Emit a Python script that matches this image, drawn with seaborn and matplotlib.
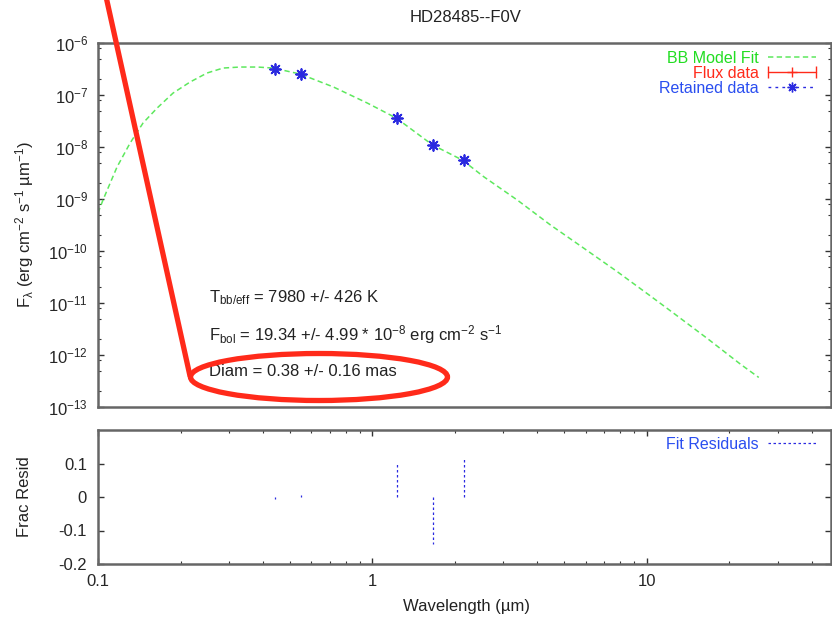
import matplotlib
matplotlib.use("Agg")
import matplotlib.pyplot as plt
import seaborn as sns
from matplotlib.lines import Line2D
from matplotlib.patches import Ellipse
from matplotlib.legend_handler import HandlerLine2D, HandlerTuple
from matplotlib.ticker import LogLocator, NullFormatter


STAR = "HD28485"
SPTYPE = "F0V"

# photometry, wavelength in microns, flux in erg/cm2/s/um
WAVE = [0.44, 0.55, 1.235, 1.662, 2.159]
FLUX = [3.1e-7, 2.5e-7, 3.65e-8, 1.1e-8, 5.6e-9]
FLUX_ERR = [6e-9, 5e-9, 7e-10, 2e-10, 1e-10]
RESID = [-0.005, 0.006, 0.10, -0.14, 0.12]

# blackbody fit
BB_WAVE = [0.1, 0.1043, 0.1173, 0.1309, 0.146, 0.1642, 0.1878, 0.2167,
           0.2499, 0.2859, 0.3298, 0.3805, 0.435, 0.546, 0.7207, 0.959,
           1.223, 1.656, 2.131, 2.548, 3.375, 4.463, 5.904, 7.816, 10.2,
           12.55, 16.7, 22.03, 25.63]
BB_FLUX = [5.4e-10, 9.6e-10, 4.12e-9, 1.19e-8, 2.9e-8, 5.6e-8, 1.09e-7,
           1.78e-7, 2.65e-7, 3.3e-7, 3.45e-7, 3.45e-7, 3.3e-7, 2.53e-7,
           1.43e-7, 7.0e-8, 3.6e-8, 1.1e-8, 5.6e-9, 2.68e-9, 9.57e-10,
           3.16e-10, 1.13e-10, 4.0e-11, 1.43e-11, 6.35e-12, 2.05e-12,
           6.6e-13, 3.7e-13]

YTICKS = [1e-13, 1e-12, 1e-11, 1e-10, 1e-9, 1e-8, 1e-7, 1e-6]

T_BB, T_BB_ERR = 7980, 426
FBOL, FBOL_ERR = 19.34, 4.99
DIAM, DIAM_ERR = 0.38, 0.16

GREEN = "#5ee85e"
GREEN_TXT = "#22dd22"
RED = "#ff2a1a"
BLUE = "#2a2ae0"
BLUE_TXT = "#2a4ef0"
FRAME = "#666666"
W, H = 832, 618
DASH = (0, (3.5, 2.2))


def fx(px):
    return px / W


def fy(py):
    return 1 - py / H


sns.set_theme(style="white")
plt.rcParams["font.family"] = ["Liberation Sans", "DejaVu Sans"]
plt.rcParams["mathtext.fontset"] = "custom"
plt.rcParams["mathtext.rm"] = "Liberation Sans"
plt.rcParams["mathtext.it"] = "Liberation Sans:italic"
plt.rcParams["font.size"] = 12
plt.rcParams["text.color"] = "#222222"

fig = plt.figure(figsize=(W / 100, H / 100), dpi=100)
ax = fig.add_axes([fx(98), fy(407), (831 - 98) / W, 364 / H])
axr = fig.add_axes([fx(98), fy(564), (831 - 98) / W, 134 / H])

# --- SED panel
sns.lineplot(x=BB_WAVE, y=BB_FLUX, ax=ax, color=GREEN, lw=1.1,
             linestyle=DASH, sort=False, estimator=None)
ax.errorbar(WAVE, FLUX, yerr=FLUX_ERR, fmt="+", color=RED, ms=6, lw=1)
sns.scatterplot(x=WAVE, y=FLUX, ax=ax, marker=(8, 2, 0), s=60,
                color=BLUE, edgecolor=BLUE, linewidth=1.3, zorder=5)

ax.set_xscale("log")
ax.set_yscale("log")
ax.set_xlim(0.1, 47)
ax.set_ylim(1e-13, 1e-6)
ax.set_yticks(YTICKS)
ax.yaxis.set_minor_locator(LogLocator(base=10, subs=(2, 5, 8), numticks=20))
ax.yaxis.set_minor_formatter(NullFormatter())
ax.tick_params(axis="x", which="both", length=0, labelbottom=False)
ax.tick_params(axis="y", which="both", direction="in", left=True, right=True,
               color="#333333", pad=7, labelsize=12)
ax.tick_params(axis="y", which="major", length=4.5, width=1)
ax.tick_params(axis="y", which="minor", length=2.5, width=0.8)

bb_h = Line2D([], [], color=GREEN, lw=1.1, linestyle=DASH)
fl_line = Line2D([], [], color=RED, lw=1, marker="+", ms=7)
fl_caps = Line2D([], [], color=RED, lw=0, marker="|", ms=8)
ret_h = Line2D([], [], color=BLUE, lw=1, linestyle=(0, (2, 3)),
               marker=(8, 2, 0), ms=7)
leg = ax.legend([bb_h, (fl_line, fl_caps), ret_h],
                ["BB Model Fit", "Flux data", "Retained data"],
                handler_map={tuple: HandlerTuple(ndivide=1),
                             fl_caps: HandlerLine2D(numpoints=2, marker_pad=0)},
                loc="upper right", bbox_to_anchor=(fx(816), fy(51)),
                bbox_transform=fig.transFigure, frameon=False, markerfirst=False,
                fontsize=11.5, labelspacing=0, handlelength=3.0,
                handletextpad=0.6, borderpad=0, borderaxespad=0)
for txt, c in zip(leg.get_texts(), [GREEN_TXT, RED, BLUE_TXT]):
    txt.set_color(c)

fig.text(fx(209), fy(302.5), r"T$_{\mathregular{bb/eff}}$ = %d +/- %d K" % (T_BB, T_BB_ERR),
         fontsize=12, va="baseline")
fig.text(fx(209), fy(340.5),
         r"F$_{\mathregular{bol}}$ = %.2f +/- %.2f * 10$^{\mathregular{-8}}$ erg cm$^{\mathregular{-2}}$ s$^{\mathregular{-1}}$"
         % (FBOL, FBOL_ERR), fontsize=12, va="baseline")
fig.text(fx(209), fy(376.5), "Diam = %.2f +/- %.2f mas" % (DIAM, DIAM_ERR),
         fontsize=12, va="baseline")

fig.text(fx(466), fy(18), "%s--%s" % (STAR, SPTYPE), ha="center", va="center", fontsize=12)
fig.text(fx(25), fy(225),
         r"F$_{\mathregular{λ}}$ (erg cm$^{\mathregular{-2}}$ s$^{\mathregular{-1}}$ µm$^{\mathregular{-1}}$)",
         rotation=90, ha="center", va="center", fontsize=12)

# --- residual panel
axr.vlines(WAVE, 0, RESID, colors=BLUE, linestyles=(0, (2, 2)), lw=0.9)
axr.set_xscale("log")
axr.set_xlim(0.1, 47)
axr.set_ylim(-0.2, 0.2)
axr.set_yticks([-0.2, -0.1, 0, 0.1])
axr.set_yticklabels(["-0.2", "-0.1", "0", "0.1"])
axr.set_xticks([0.1, 1, 10])
axr.set_xticklabels(["0.1", "1", "10"])
axr.xaxis.set_minor_locator(LogLocator(base=10, subs=range(2, 10), numticks=20))
axr.xaxis.set_minor_formatter(NullFormatter())
axr.tick_params(which="both", direction="in", top=True, bottom=True,
                left=True, right=True, color="#333333", labelsize=12)
axr.tick_params(which="major", length=4.5, width=1)
axr.tick_params(which="minor", length=2.5, width=0.8)
axr.tick_params(axis="y", pad=8)
axr.tick_params(axis="x", pad=7)
res_h = Line2D([], [], color=BLUE, lw=0.9, linestyle=(0, (2, 2)))
leg2 = axr.legend([res_h], ["Fit Residuals"], loc="upper right",
                  bbox_to_anchor=(fx(816), fy(437)), bbox_transform=fig.transFigure,
                  frameon=False, markerfirst=False, fontsize=11.5,
                  handlelength=3.0, handletextpad=0.6, borderpad=0, borderaxespad=0)
leg2.get_texts()[0].set_color(BLUE_TXT)

fig.text(fx(25), fy(497), "Frac Resid", rotation=90, ha="center", va="center", fontsize=12)
fig.text(fx(467), fy(607), "Wavelength (µm)", ha="center", va="center", fontsize=12)

for a in (ax, axr):
    for sp in a.spines.values():
        sp.set_color(FRAME)
        sp.set_linewidth(1.8)

# --- red highlight drawn over the figure
fig.add_artist(Line2D([fx(105), fx(190)], [fy(-8), fy(376)], transform=fig.transFigure,
                      color=RED, lw=3.8, solid_capstyle="round", zorder=20))
fig.add_artist(Ellipse((fx(319), fy(377)), 257 / W, 47 / H, transform=fig.transFigure,
                       fill=False, ec=RED, lw=3.8, zorder=20))

fig.savefig("out.png", dpi=100)
